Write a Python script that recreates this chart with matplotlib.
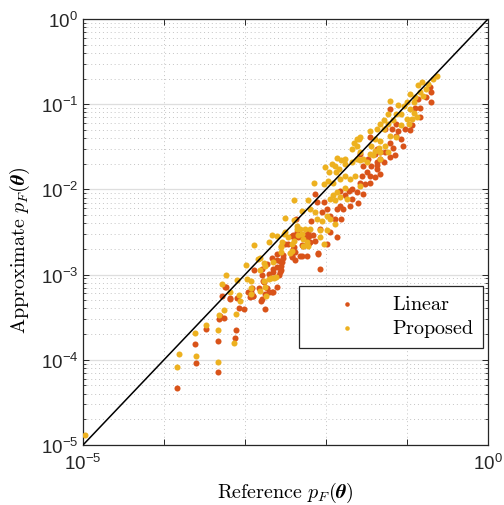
import numpy as np
import matplotlib
matplotlib.use('Agg')
import matplotlib.pyplot as plt
from matplotlib import ticker
from matplotlib.font_manager import FontProperties

# log10 of reference / approximate failure probabilities
linear_ref_exp = [
    -3.29, -3.18, -3.08, -3.01, -3.32, -3.26, -3.48, -3.11, -3.62, -3.33, -3.12, -3.60, -3.33, -3.84,
    -2.92, -2.90, -3.23, -3.10,
    -2.89, -2.83, -2.79, -2.78, -2.73, -2.71, -2.67, -2.61, -2.71, -2.66, -2.61, -2.58, -2.55, -2.54,
    -2.67, -2.61, -2.51, -2.53, -2.38, -2.42, -2.38, -2.39, -2.37,
    -2.80, -2.75, -2.94, -2.91,
    -2.41, -2.34, -2.27, -2.21, -2.14, -2.21, -2.30, -2.41, -2.32, -2.23, -2.10, -2.07,
    -2.53, -2.57, -2.61, -2.73, -2.56, -2.57, -2.65, -2.79, -2.77,
    -2.65, -2.75, -2.79, -2.90, -2.96, -3.19, -3.25, -3.31,
    -1.58, -1.37, -1.33, -1.29, -1.37, -1.50, -1.56, -1.46, -1.40, -1.33,
    -1.46, -1.52, -1.58, -1.54, -1.62, -1.68, -1.72, -1.83, -1.77, -1.68,
    -1.61, -1.70, -1.79, -1.83, -1.87, -1.81, -1.89, -1.95, -1.99, -2.05,
    -2.14, -2.11, -2.03, -2.18, -2.07, -1.95, -1.87, -2.22, -2.16, -2.24,
    -2.30, -2.36, -2.42, -2.47, -2.40, -2.28, -2.20, -2.10, -2.30, -2.42,
    -0.72, -0.70, -0.70, -0.76, -0.86, -0.84, -0.90, -0.84, -0.94, -0.96,
    -1.02, -1.11, -1.19, -1.21, -1.13, -1.07, -1.21, -1.17, -1.05, -1.21,
    -1.27, -1.33, -1.37, -1.46, -1.48, -1.44, -1.37, -1.54, -1.27, -1.13,
    -1.99, -1.15, -1.40,
]
linear_approx_exp = [
    -3.25, -3.28, -3.39, -3.40, -3.52, -3.51, -3.64, -3.65, -3.81, -3.78, -3.75, -4.04, -4.14, -4.33,
    -3.21, -3.25, -3.15, -3.28,
    -2.95, -3.16, -3.00, -3.08, -3.16, -3.21, -3.20, -3.14, -2.99, -2.94, -2.91, -3.00, -2.95, -2.85,
    -2.81, -2.76, -2.64, -2.80, -2.83, -2.79, -2.73, -2.56, -2.35,
    -3.31, -3.40, -3.26, -3.16,
    -2.54, -2.56, -2.54, -2.55, -2.60, -2.63, -2.65, -2.70, -2.78, -2.78, -2.75, -2.93,
    -2.77, -2.84, -2.83, -2.88, -2.90, -2.97, -2.97, -2.94, -3.09,
    -3.20, -3.23, -3.29, -3.25, -3.21, -3.29, -3.15, -3.49,
    -1.58, -1.68, -1.64, -1.68, -1.76, -1.80, -1.84, -1.84, -1.86, -1.82,
    -1.92, -1.94, -1.92, -2.05, -2.03, -2.00, -2.02, -2.02, -2.07, -2.11,
    -2.16, -2.19, -2.23, -2.19, -2.23, -2.35, -2.35, -2.31, -2.23, -2.27,
    -2.05, -2.15, -2.15, -2.37, -2.46, -2.50, -2.56, -2.50, -2.54, -2.58,
    -2.56, -2.50, -2.55, -2.64, -2.68, -2.66, -2.62, -2.76, -2.78, -2.78,
    -0.80, -0.86, -0.97, -0.92, -0.94, -1.04, -1.04, -1.15, -1.25, -1.30,
    -1.29, -1.31, -1.29, -1.06, -1.37, -1.41, -1.45, -1.51, -1.49, -1.62,
    -1.56, -1.56, -1.53, -1.39, -1.64, -1.72, -1.71, -1.72, -1.29, -1.23,
    -2.64, -1.60, -1.58,
]

proposed_ref_exp = [
    -3.08, -3.26, -3.32, -3.11, -3.48, -3.62, -3.33, -3.13, -3.82, -3.60,
    -3.84, -3.33, -3.06, -3.24, -3.29, -3.18, -3.10, -2.99, -2.98, -2.93,
    -2.92, -2.84, -2.89, -2.82, -2.81, -2.75, -2.75, -2.74, -2.71, -2.68,
    -2.64, -2.62, -2.65, -2.76, -2.70, -2.67, -2.61, -2.55, -2.52, -2.51,
    -2.39, -2.42, -2.36, -2.51, -2.54, -2.42, -2.30, -2.29, -2.22, -2.07,
    -2.02, -2.81, -2.77, -2.92, -2.44, -2.55, -2.24,
    -1.87, -1.81, -1.93, -1.89, -1.77, -1.96, -1.88, -1.84, -1.68, -1.62,
    -1.58, -1.54, -1.50, -1.46, -1.40, -1.33, -1.23, -2.15, -2.03, -1.97,
    -1.91, -1.83, -1.77, -1.70, -1.64, -1.77, -1.87, -1.91, -1.95, -1.89,
    -1.83, -1.74, -1.58,
    -2.22, -2.30, -2.20, -2.14, -2.11, -2.05, -1.99, -1.95, -1.89,
    -2.40, -2.36, -2.32, -2.26, -2.20, -2.07, -1.99, -2.47, -2.40, -2.34, -2.28, -2.55,
    -0.63, -0.68, -0.74, -0.82, -0.87, -0.76, -0.84, -0.96, -0.90, -0.80,
    -0.92, -1.00, -1.04, -1.11, -1.21, -1.13, -1.07, -0.96, -0.92, -1.00,
    -0.94, -0.88, -1.23, -1.29, -1.33, -1.23, -1.17, -1.07, -0.98, -1.37,
    -1.46, -1.29, -1.21, -1.13, -1.40, -1.33, -1.44, -1.35, -1.27, -1.59,
    -1.66, -1.62, -1.68, -1.58, -1.42, -1.33, -1.77, -4.98,
    -2.01, -1.62, -1.58,
]
proposed_approx_exp = [
    -3.24, -3.41, -3.47, -3.46, -3.59, -3.68, -3.65, -3.80, -3.93, -3.96,
    -4.08, -4.03, -3.31, -3.00, -3.11, -3.21, -3.06, -2.89, -3.05, -3.07,
    -3.23, -2.82, -2.65, -2.95, -3.19, -3.15, -2.90, -3.25, -3.05, -3.04,
    -3.04, -3.03, -2.85, -2.86, -2.62, -2.54, -2.55, -2.68, -2.52, -2.33,
    -2.12, -2.72, -2.46, -2.50, -2.62, -2.64, -2.52, -2.66, -2.67, -2.56,
    -2.64, -2.81, -3.07, -3.16, -2.75, -2.74, -2.62,
    -1.63, -1.65, -1.70, -1.72, -1.70, -1.80, -1.80, -1.76, -1.68, -1.64,
    -1.66, -1.64, -1.68, -1.58, -1.55, -1.56, -1.56, -1.92, -1.94, -1.90,
    -1.92, -1.88, -1.84, -1.88, -1.84, -1.98, -2.03, -2.07, -2.11, -2.13,
    -2.09, -2.11, -1.96,
    -2.13, -2.25, -2.23, -2.27, -2.35, -2.37, -2.31, -2.35, -2.41,
    -2.36, -2.43, -2.46, -2.46, -2.46, -2.48, -2.48, -2.56, -2.60, -2.54, -2.58, -2.66,
    -0.67, -0.70, -0.76, -0.74, -0.78, -0.82, -0.86, -0.88, -0.92, -0.90,
    -0.98, -0.98, -1.02, -1.01, -0.96, -1.12, -1.12, -1.06, -1.10, -1.17,
    -1.17, -1.15, -1.12, -1.19, -1.23, -1.23, -1.19, -1.25, -1.23, -1.29,
    -1.31, -1.29, -1.37, -1.39, -1.41, -1.43, -1.49, -1.51, -1.49, -1.41,
    -1.45, -1.49, -1.53, -1.56, -1.60, -1.64, -1.64, -4.88,
    -1.74, -1.41, -1.39,
]

series_names = ['Linear', 'Proposed']
series_colors = ['#D95319', '#EDB120']
axis_lims = [1e-5, 1e0]
x_tick_vals = [1e-5, 1e-4, 1e-3, 1e-2, 1e-1, 1e0]
x_tick_text = ['$10^{-5}$', '', '', '', '', '$10^{0}$']

plt.rcParams['font.family'] = ['Liberation Sans', 'DejaVu Sans']
plt.rcParams['mathtext.fontset'] = 'custom'
plt.rcParams['mathtext.rm'] = 'Liberation Sans'
plt.rcParams['mathtext.it'] = 'Liberation Sans:italic'
plt.rcParams['mathtext.bf'] = 'Liberation Sans:bold'

fig = plt.figure(figsize=(5.04, 5.06), dpi=100)
ax = fig.add_axes([0.1647, 0.1186, 0.8036, 0.8419])

ax.scatter(10 ** np.array(linear_ref_exp), 10 ** np.array(linear_approx_exp),
           s=19, color=series_colors[0], linewidths=0,
           label=r'$\mathrm{%s}$' % series_names[0], zorder=3)
ax.scatter(10 ** np.array(proposed_ref_exp), 10 ** np.array(proposed_approx_exp),
           s=19, color=series_colors[1], linewidths=0,
           label=r'$\mathrm{%s}$' % series_names[1], zorder=3)
ax.plot(axis_lims, axis_lims, color='black', lw=1.1, zorder=4)

ax.set_xscale('log')
ax.set_yscale('log')
ax.set_xlim(axis_lims)
ax.set_ylim(axis_lims)

ax.set_xticks(x_tick_vals)
ax.set_xticklabels(x_tick_text)
ax.xaxis.set_minor_locator(ticker.NullLocator())
ax.yaxis.set_major_locator(ticker.LogLocator(base=10, numticks=10))
ax.yaxis.set_minor_locator(ticker.LogLocator(base=10, subs=np.arange(2, 10), numticks=20))
ax.yaxis.set_minor_formatter(ticker.NullFormatter())

ax.tick_params(which='both', direction='in', top=True, right=True, labelsize=13.5,
               color='#262626', labelcolor='#262626')
ax.tick_params(which='major', length=4, width=0.7)
ax.tick_params(which='minor', length=2.5, width=0.6)
ax.tick_params(axis='x', pad=6)

ax.yaxis.grid(True, which='major', color='#dedede', lw=0.9, ls='-')
ax.yaxis.grid(True, which='minor', color='#c4c4c4', lw=0.7, ls=(0, (1, 3)))
ax.xaxis.grid(True, which='major', color='#c4c4c4', lw=0.7, ls=(0, (1, 3)))
ax.set_axisbelow(True)

for sp in ax.spines.values():
    sp.set_color('#262626')
    sp.set_linewidth(0.9)

ax.set_xlabel(r'$\mathrm{Reference}\ p_F(\boldsymbol{\theta})$', fontsize=14.5,
              math_fontfamily='cm', labelpad=5)
ax.set_ylabel(r'$\mathrm{Approximate}\ p_F(\boldsymbol{\theta})$', fontsize=14.5,
              math_fontfamily='cm')
ax.yaxis.set_label_coords(-0.125, 0.46)

leg_font = FontProperties(size=14.5, math_fontfamily='cm')
leg = ax.legend(loc='lower right', bbox_to_anchor=(0.988, 0.228), prop=leg_font,
                handlelength=3.9, handletextpad=0.3, borderpad=0.42, labelspacing=0.22,
                borderaxespad=0, fancybox=False, framealpha=1, edgecolor='#262626',
                markerscale=0.75)
leg.get_frame().set_linewidth(0.9)

fig.savefig('out.png', dpi=100)
